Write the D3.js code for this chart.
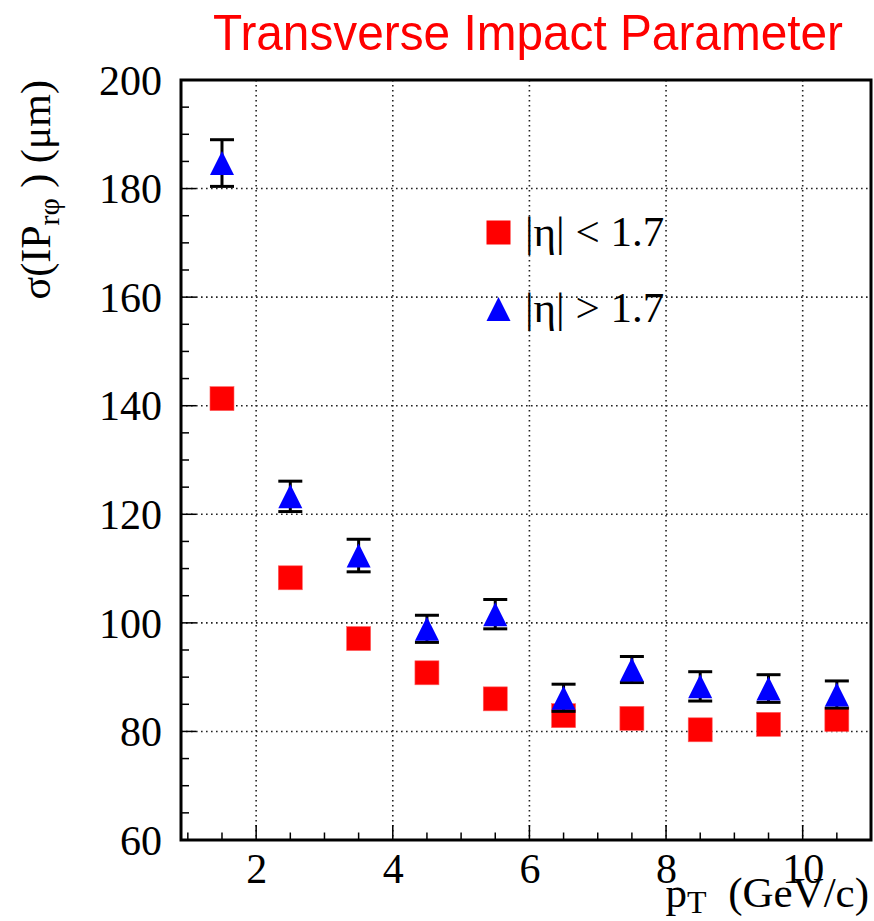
<!DOCTYPE html>
<html>
<head>
<meta charset="utf-8">
<script src="https://cdn.jsdelivr.net/npm/d3@7"></script>
<style>
  body { margin: 0; background: #fff; }
  svg { display: block; }
</style>
</head>
<body>
<svg id="chart" width="874" height="921"></svg>
<script>
// Transverse impact parameter resolution vs pT, two pseudorapidity bins
const ptBins = [1.5, 2.5, 3.5, 4.5, 5.5, 6.5, 7.5, 8.5, 9.5, 10.5];
const sigmaCentral = [141.3, 108.3, 97.1, 90.8, 86.0, 82.9, 82.4, 80.3, 81.3, 82.2];
const sigmaForward = [184.7, 123.3, 112.4, 98.9, 101.6, 86.2, 91.4, 88.3, 87.9, 86.8];
const errForward = [4.3, 2.8, 3.0, 2.5, 2.7, 2.5, 2.4, 2.7, 2.55, 2.5];
const xTicks = [2, 4, 6, 8, 10];
const yTicks = [60, 80, 100, 120, 140, 160, 180, 200];
const legendLabels = ["|\u03B7| < 1.7", "|\u03B7| > 1.7"];

const frame = { left: 181, right: 871, top: 80, bottom: 840 };
const serif = "'Liberation Serif', 'Times New Roman', serif";

const svg = d3.select("#chart");
const x = d3.scaleLinear().domain([0.9, 11]).range([frame.left, frame.right]);
const y = d3.scaleLinear().domain([60, 200]).range([frame.bottom, frame.top]);

// dotted grid at the major ticks
const grid = svg.append("g").attr("stroke", "#222").attr("stroke-width", 1.6)
  .attr("stroke-dasharray", "1.6,3.4");
grid.selectAll("line.gx").data(xTicks).join("line")
  .attr("x1", d => x(d)).attr("x2", d => x(d))
  .attr("y1", frame.top).attr("y2", frame.bottom);
grid.selectAll("line.gy").data(yTicks.filter(v => v > 60 && v < 200)).join("line")
  .attr("y1", d => y(d)).attr("y2", d => y(d))
  .attr("x1", frame.left).attr("x2", frame.right);

// axis labels
const xAxis = d3.axisBottom(x).tickValues(xTicks).tickSize(0).tickPadding(13)
  .tickFormat(d3.format("d"));
const gx = svg.append("g").attr("transform", `translate(0,${frame.bottom})`).call(xAxis);
gx.select(".domain").remove();
gx.selectAll("text").attr("font-family", serif).attr("font-size", 42).attr("fill", "#000");

const yAxis = d3.axisLeft(y).tickValues(yTicks).tickSize(0).tickPadding(19)
  .tickFormat(d3.format("d"));
const gy = svg.append("g").attr("transform", `translate(${frame.left},0)`).call(yAxis);
gy.select(".domain").remove();
gy.selectAll("text").attr("font-family", serif).attr("font-size", 42).attr("fill", "#000")
  .attr("dy", "0.34em");

// tick marks drawn inside the frame
const ticks = svg.append("g").attr("stroke", "#000").attr("stroke-width", 1.5);
const xMinor = d3.range(1, 11.01, 0.5);
ticks.selectAll("line.tx").data(xMinor).join("line")
  .attr("x1", d => x(d)).attr("x2", d => x(d))
  .attr("y1", frame.bottom)
  .attr("y2", d => frame.bottom - (Number.isInteger(d / 2) ? 15 : 7.5));
const yMinor = d3.range(60, 200.01, 5);
ticks.selectAll("line.ty").data(yMinor).join("line")
  .attr("y1", d => y(d)).attr("y2", d => y(d))
  .attr("x1", frame.left)
  .attr("x2", d => frame.left + (d % 20 === 0 ? 15 : 8));

// frame
svg.append("rect")
  .attr("x", frame.left).attr("y", frame.top)
  .attr("width", frame.right - frame.left).attr("height", frame.bottom - frame.top)
  .attr("fill", "none").attr("stroke", "#000").attr("stroke-width", 3);

// markers
const half = 12;
const red = "#ff0000", blue = "#0000ff";
svg.append("g").selectAll("rect").data(ptBins).join("rect")
  .attr("x", d => x(d) - half).attr("y", (d, i) => y(sigmaCentral[i]) - half)
  .attr("width", 2 * half).attr("height", 2 * half)
  .attr("fill", red).attr("stroke", "#ff6060").attr("stroke-width", 0.6);

const errG = svg.append("g").attr("stroke", "#000").attr("stroke-width", 3);
ptBins.forEach((d, i) => {
  const cx = x(d), top = y(sigmaForward[i] + errForward[i]), bot = y(sigmaForward[i] - errForward[i]);
  errG.append("line").attr("x1", cx).attr("x2", cx).attr("y1", top).attr("y2", bot);
  errG.append("line").attr("x1", cx - half).attr("x2", cx + half).attr("y1", top).attr("y2", top);
  errG.append("line").attr("x1", cx - half).attr("x2", cx + half).attr("y1", bot).attr("y2", bot);
});

const tri = (cx, cy) => `M${cx},${cy - half}L${cx + half},${cy + half}L${cx - half},${cy + half}Z`;
svg.append("g").selectAll("path").data(ptBins).join("path")
  .attr("d", (d, i) => tri(x(d), y(sigmaForward[i])))
  .attr("fill", blue);

// legend
const leg = svg.append("g");
leg.append("rect").attr("x", 498.5 - half).attr("y", 232.5 - half)
  .attr("width", 2 * half).attr("height", 2 * half).attr("fill", red);
leg.append("path").attr("d", tri(498.5, 309)).attr("fill", blue);
leg.selectAll("text").data(legendLabels).join("text")
  .attr("x", 525).attr("y", (d, i) => [246, 322][i])
  .attr("font-family", serif).attr("font-size", 43).attr("fill", "#000")
  .text(d => d);

// title
svg.append("text").attr("x", 528).attr("y", 50).attr("text-anchor", "middle")
  .attr("font-family", "'Liberation Sans', Arial, sans-serif").attr("font-size", 50)
  .attr("fill", red).attr("textLength", 630).attr("lengthAdjust", "spacingAndGlyphs")
  .text("Transverse Impact Parameter");

// x axis title
const xt = svg.append("text").attr("x", 869).attr("y", 907).attr("text-anchor", "end")
  .attr("font-family", serif).attr("font-size", 43).attr("fill", "#000");
xt.append("tspan").text("p");
xt.append("tspan").attr("font-size", 32).attr("dy", 6).text("T");
xt.append("tspan").attr("dy", -6).text("\u00A0\u00A0(GeV/c)");

// y axis title
const yt = svg.append("text").attr("transform", "translate(50,80) rotate(-90)")
  .attr("text-anchor", "end").attr("font-family", serif).attr("font-size", 42).attr("fill", "#000");
yt.append("tspan").text("\u03C3(IP");
yt.append("tspan").attr("font-size", 30).attr("dy", 9).text("r\u03C6");
yt.append("tspan").attr("dy", -9).text(" )  (\u03BCm)");
</script>
</body>
</html>
